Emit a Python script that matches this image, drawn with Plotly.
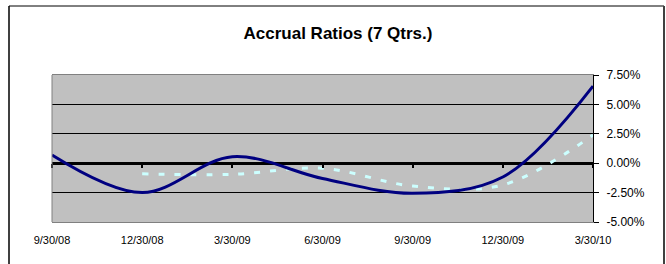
import plotly.graph_objects as go

quarters = ["9/30/08", "12/30/08", "3/30/09", "6/30/09", "9/30/09", "12/30/09", "3/30/10"]
series_a = [0.7, -2.5, 0.55, -1.3, -2.56, -1.17, 6.56]
series_b = [None, -0.9, -0.95, -0.43, -1.94, -1.85, 2.4]
y_ticks = [-5.0, -2.5, 0.0, 2.5, 5.0, 7.5]

xs = list(range(len(quarters)))

fig = go.Figure()
fig.add_trace(go.Scatter(x=xs, y=series_b, mode="lines",
                         line=dict(color="#CCFFFF", width=3, dash="6px,10px", shape="spline"),
                         connectgaps=False, hoverinfo="skip"))
fig.add_trace(go.Scatter(x=xs, y=series_a, mode="lines",
                         line=dict(color="#000080", width=3, shape="spline"),
                         hoverinfo="skip"))

# secondary x axis used only for tick marks on the zero line
fig.add_trace(go.Scatter(x=xs, y=[None]*len(xs), xaxis="x2", yaxis="y", showlegend=False, hoverinfo="skip"))

fig.update_layout(
    width=666, height=264,
    margin=dict(l=52, r=73, t=75, b=42),
    paper_bgcolor="white",
    plot_bgcolor="#C0C0C0",
    showlegend=False,
    font=dict(family="Liberation Sans, Arial, sans-serif", color="black", size=11),
    title=dict(text="<b>Accrual Ratios (7 Qtrs.)</b>", x=338/666, xanchor="center",
               y=1 - 33/264, yanchor="middle", font=dict(size=17, color="black")),
    xaxis=dict(range=[0, len(quarters) - 1], tickmode="array", tickvals=xs, ticktext=quarters,
               showgrid=False, zeroline=False, showline=True, linecolor="#808080", linewidth=1,
               mirror=True, ticks="outside", ticklen=8, tickcolor="rgba(0,0,0,0)",
               tickfont=dict(size=11)),
    xaxis2=dict(range=[0, len(quarters) - 1], overlaying="x", anchor="free",
                position=(0 - y_ticks[0]) / (y_ticks[-1] - y_ticks[0]),
                tickmode="array", tickvals=xs, showticklabels=False,
                ticks="outside", ticklen=4, tickwidth=2, tickcolor="black",
                showgrid=False, zeroline=False, showline=False),
    yaxis=dict(range=[y_ticks[0], y_ticks[-1]], side="right", tickmode="array", tickvals=y_ticks,
               ticktext=[f"{v:.2f}%" for v in y_ticks],
               showgrid=True, gridcolor="black", gridwidth=1,
               zeroline=True, zerolinecolor="black", zerolinewidth=3,
               showline=True, linecolor="black", linewidth=1,
               ticks="outside", ticklen=5, tickcolor="black", ticklabelstandoff=5,
               tickfont=dict(size=12)),
    shapes=[
        dict(type="line", xref="paper", yref="paper", x0=0, x1=0, y0=0, y1=1,
             line=dict(color="#808080", width=1)),
        dict(type="line", xref="paper", yref="paper", x0=(9-52)/541, x1=(9-52)/541,
             y0=1 + (75-6)/147, y1=-0.4, line=dict(color="#404040", width=2)),
        dict(type="line", xref="paper", yref="paper", x0=(9-52)/541, x1=(664-52)/541,
             y0=1 + (75-6)/147, y1=1 + (75-6)/147, line=dict(color="black", width=1)),
        dict(type="line", xref="paper", yref="paper", x0=(664-52)/541, x1=(664-52)/541,
             y0=1 + (75-6)/147, y1=-0.4, line=dict(color="#404040", width=2)),
    ],
)

fig.write_html("out.html", config={"displayModeBar": False},
               post_script="document.body.style.margin='0';document.body.style.overflow='hidden';")
